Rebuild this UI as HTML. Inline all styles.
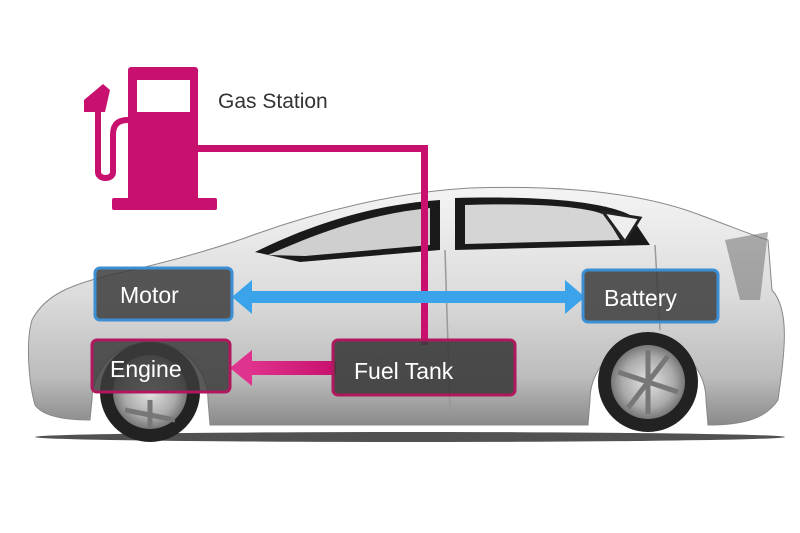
<!DOCTYPE html>
<html><head><meta charset="utf-8"><style>
html,body{margin:0;padding:0;background:#fff;}
svg{display:block;}
text{font-family:"Liberation Sans",sans-serif;}
</style></head><body>
<svg width="800" height="533" viewBox="0 0 800 533" xmlns="http://www.w3.org/2000/svg">
<defs>
<linearGradient id="body" x1="0" y1="0" x2="0" y2="1">
<stop offset="0" stop-color="#f4f4f4"/><stop offset="0.45" stop-color="#dcdcdc"/><stop offset="0.8" stop-color="#bcbcbc"/><stop offset="1" stop-color="#8a8a8a"/>
</linearGradient>
<radialGradient id="rim"><stop offset="0" stop-color="#e4e4e4"/><stop offset="0.7" stop-color="#aaa"/><stop offset="1" stop-color="#777"/></radialGradient>
<linearGradient id="pk" x1="0" x2="1"><stop offset="0" stop-color="#e0338e"/><stop offset="1" stop-color="#c8106e"/></linearGradient>
</defs>
<ellipse cx="410" cy="437" rx="375" ry="5" fill="#333" opacity="0.85"/>
<!-- car body with wheel arches -->
<path d="M35 405 C28 380 26 340 32 320 C45 295 70 285 110 275 C170 262 210 250 245 238 C320 210 400 192 470 188 C560 185 640 192 700 215 C735 228 760 238 768 240 L772 290 C790 310 785 350 778 400 C765 420 740 425 708 425 L706 400 A58 58 0 0 0 590 400 L588 425 L210 425 L208 400 A58 58 0 0 0 92 400 L90 420 C60 420 42 415 35 405 Z" fill="url(#body)" stroke="#888" stroke-width="1"/>
<!-- windows -->
<path d="M255 252 C310 225 370 205 440 200 L440 250 L300 262 Z" fill="#1a1a1a"/>
<path d="M268 255 C320 232 370 214 430 208 L430 245 L305 256 Z" fill="#cfcfcf"/>
<path d="M455 198 C530 196 600 200 630 215 L650 245 L455 250 Z" fill="#1a1a1a"/>
<path d="M465 205 C530 203 585 206 605 215 L620 240 L465 244 Z" fill="#d5d5d5"/>
<path d="M603 212 L640 218 L625 242 Z" fill="#eee" stroke="#222" stroke-width="3"/>
<line x1="445" y1="250" x2="450" y2="410" stroke="#999" stroke-width="1.5"/>
<line x1="655" y1="245" x2="660" y2="330" stroke="#999" stroke-width="1.5"/>
<path d="M725 240 L768 232 L760 300 L740 300 Z" fill="#666" opacity="0.5"/>
<!-- wheels -->
<circle cx="150" cy="392" r="50" fill="#222"/>
<circle cx="150" cy="392" r="37" fill="url(#rim)"/>
<circle cx="648" cy="382" r="50" fill="#222"/>
<circle cx="648" cy="382" r="37" fill="url(#rim)"/>
<g stroke="#777" stroke-width="5">
<line x1="648" y1="350" x2="648" y2="414"/><line x1="618" y1="372" x2="678" y2="392"/><line x1="628" y1="408" x2="668" y2="356"/>
<line x1="150" y1="400" x2="150" y2="428"/><line x1="125" y1="410" x2="175" y2="420"/>
</g>
<!-- pink pipe -->
<rect x="195" y="145" width="233" height="7" fill="#c8106e"/>
<rect x="421" y="145" width="7" height="200" fill="#c8106e"/>
<!-- pump -->
<rect x="128" y="67" width="70" height="135" rx="3" fill="#c8106e"/>
<rect x="137" y="80" width="53" height="32" fill="#fff"/>
<rect x="112" y="198" width="105" height="12" rx="2" fill="#c8106e"/>
<path d="M128 120 C115 120 113 128 113 135 L113 172 C113 180 98 180 98 172 L98 110" fill="none" stroke="#c8106e" stroke-width="6"/>
<path d="M84 112 L84 100 L103 84 L110 90 L105 112 Z" fill="#c8106e"/>
<text x="218" y="108" font-size="21" fill="#333">Gas Station</text>
<!-- blue arrow -->
<rect x="245" y="291" width="325" height="12" fill="#3aa3ea"/>
<path d="M232 297 L252 280 L252 314 Z" fill="#3aa3ea"/>
<path d="M585 297 L565 280 L565 314 Z" fill="#3aa3ea"/>
<!-- pink arrow -->
<rect x="248" y="361" width="88" height="14" fill="url(#pk)"/>
<path d="M230 368 L252 350 L252 386 Z" fill="#e0338e"/>
<!-- boxes -->
<rect x="95" y="268" width="137" height="52" rx="5" fill="#3c3c3c" fill-opacity="0.85" stroke="#3c8fd3" stroke-width="3"/>
<rect x="583" y="270" width="135" height="52" rx="5" fill="#3c3c3c" fill-opacity="0.85" stroke="#3c8fd3" stroke-width="3"/>
<rect x="92" y="340" width="138" height="52" rx="5" fill="#3c3c3c" fill-opacity="0.85" stroke="#b0185e" stroke-width="3"/>
<rect x="333" y="340" width="182" height="55" rx="5" fill="#3c3c3c" fill-opacity="0.9" stroke="#b0185e" stroke-width="3"/>
<g fill="#fff" font-size="23">
<text x="120" y="303">Motor</text>
<text x="604" y="306">Battery</text>
<text x="110" y="377">Engine</text>
<text x="354" y="379">Fuel Tank</text>
</g>
</svg>
</body></html>
